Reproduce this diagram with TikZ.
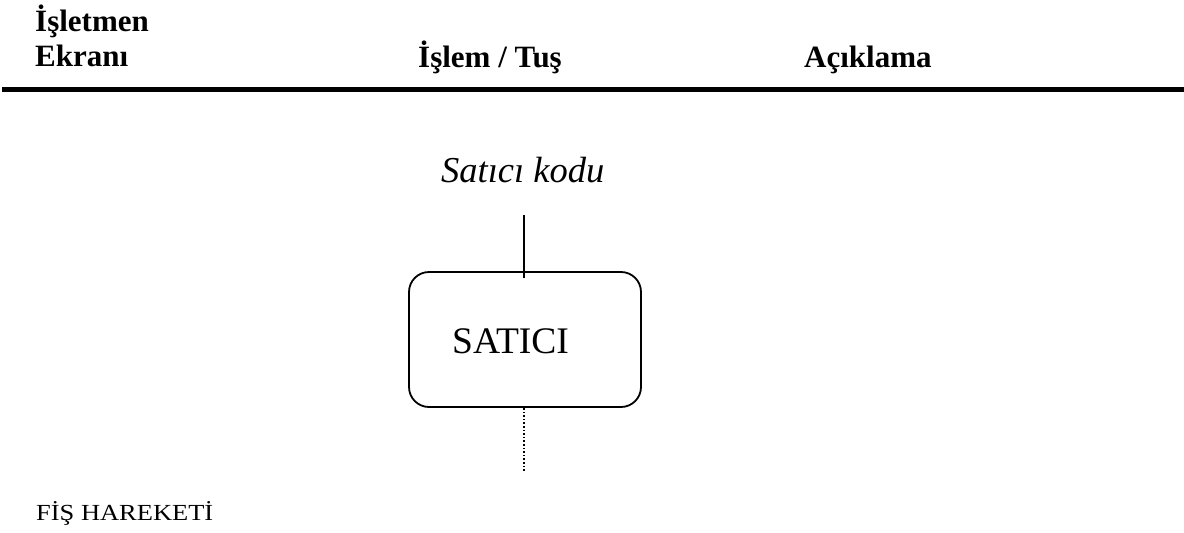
\documentclass[tikz,border=0pt]{standalone}
\usepackage{fontspec}
\setmainfont{Liberation Serif}
\newfontfamily\wideserif[FakeStretch=1.15]{Liberation Serif}
\begin{document}
\begin{tikzpicture}[x=1pt,y=-1pt,
  hdr/.style={anchor=base west,inner sep=0pt,font=\fontsize{31}{31}\selectfont\bfseries},
  lbl/.style={anchor=base west,inner sep=0pt},
  procbox/.style={draw,line width=1.8pt,rounded corners=20pt,minimum width=232pt,minimum height=135pt,inner sep=0pt},
  conn/.style={line width=1.6pt},
  dotconn/.style={line width=1.6pt,dotted}]
\useasboundingbox (0,0) rectangle (1184,533);
% header
\node[hdr] (h1a) at (35,31) {İşletmen};
\node[hdr] (h1b) at (35,66) {Ekranı};
\node[hdr] (h2) at (418,67) {İşlem / Tuş};
\node[hdr] (h3) at (804,67) {Açıklama};
\coordinate (ruleL) at (2,89.5);
\coordinate (ruleR) at (1184,89.5);
\draw[line width=4.5pt] (ruleL) -- (ruleR);
% diagram
\node[lbl,font=\fontsize{36.5}{36.5}\selectfont\itshape] (kod) at (441,182) {Satıcı kodu};
\node[procbox] (box) at (525,339.5) {};
\node[lbl,font=\fontsize{37.5}{37.5}\selectfont] (sat) at (452,353) {SATICI};
\coordinate (topend) at (524,215);
\coordinate (botend) at (524,472);
\draw[conn] (topend) -- ([yshift=-7pt]box.north -| topend);
\draw[dotconn] (box.south -| botend) -- (botend);
\node[lbl,font=\wideserif\fontsize{23}{23}\selectfont] (fis) at (36,520) {FİŞ HAREKETİ};
\end{tikzpicture}
\end{document}
